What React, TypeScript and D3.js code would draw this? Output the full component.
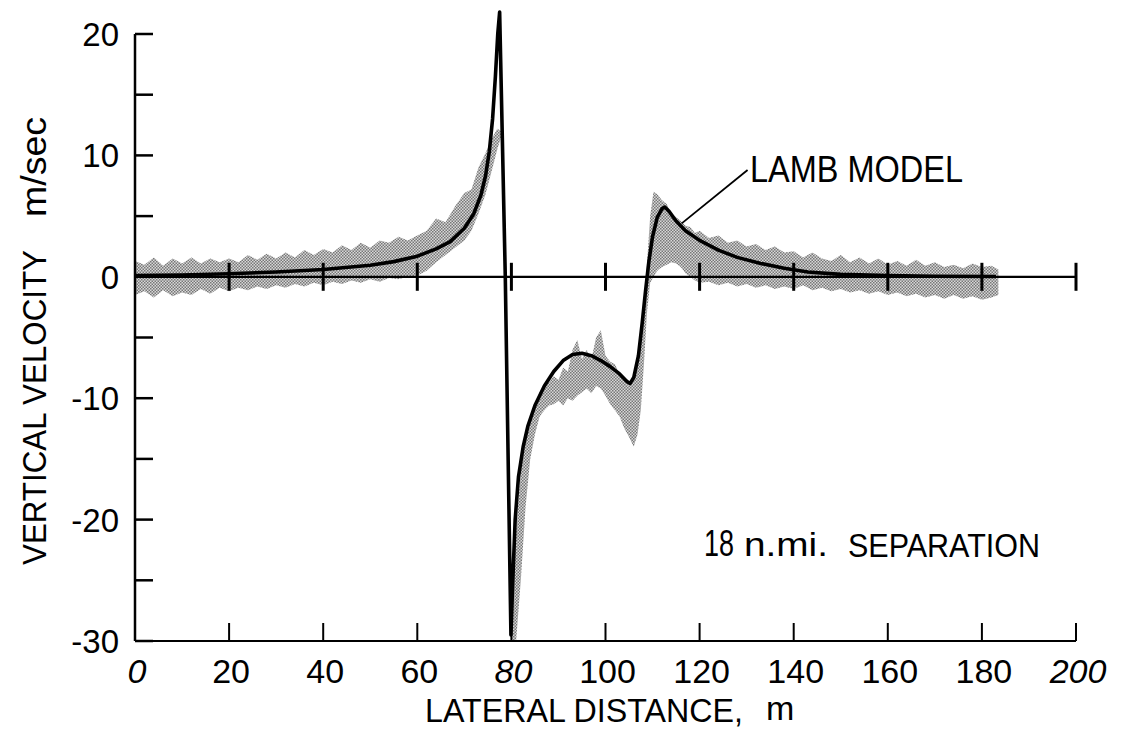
import React from "react";
import * as d3 from "d3";

// ---- Data ----
const xTicks = [0, 20, 40, 60, 80, 100, 120, 140, 160, 180, 200];
const xTickLabels = ["0", "20", "40", "60", "80", "100", "120", "140", "160", "180", "200"];
const italicXLabels = ["0", "80", "200"];
const yMajorTicks = [20, 10, 0, -10, -20, -30];
const yTickLabels = ["20", "10", "0", "-10", "-20", "-30"];
const yMinorTicks = [20, 15, 10, 5, 0, -5, -10, -15, -20, -25, -30];

// Lamb model curve
const modelX = [0, 10, 20, 30, 40, 50, 55, 60, 64, 67, 70, 72, 73.5, 74.5, 75.3, 76, 76.6, 77.1, 77.5,
  78.7, 79.9, 80.3, 80.8, 81.5, 82.5, 83.5, 85, 87, 89, 91, 93, 95, 97, 99, 101, 103, 104.5, 105.2,
  106, 107, 107.8, 108.5, 109.2, 110, 111, 112, 112.6, 113.5, 115, 117, 120, 124, 128, 133, 138, 143,
  150, 160, 170, 183];
const modelY = [0.1, 0.15, 0.25, 0.4, 0.6, 0.95, 1.25, 1.7, 2.3, 2.9, 4.0, 5.2, 6.7, 8.3, 10.3, 13, 16.5, 20, 21.8,
  0, -29.5, -25, -20, -16.5, -14, -12.3, -10.6, -9, -7.8, -6.9, -6.4, -6.3, -6.5, -6.9, -7.4, -8.0, -8.6, -8.8,
  -8.3, -6.5, -3.8, -1.2, 1.2, 3.3, 4.9, 5.6, 5.75, 5.4, 4.6, 3.8, 3.0, 2.2, 1.6, 1.1, 0.7, 0.4,
  0.2, 0.1, 0.05, 0.03];

// Measured data band (upper / lower envelope); null = gap
const bandX = [0, 2, 4, 6, 8, 10, 12, 14, 16, 18, 20, 22, 24, 26, 28, 30, 32, 34, 36, 38, 40, 42, 44, 46, 48,
  50, 52, 54, 56, 58, 60, 62, 64, 66, 68, 70, 71.5, 73, 74.5, 76, 77, 77.8,
  79,
  80.2, 81, 82, 83, 84, 85, 86, 87, 88, 89, 90, 91, 92, 93, 94, 95, 96, 97, 98, 99, 100, 101, 102, 103,
  104, 105, 106, 106.8, 107.5, 108.2, 108.8, 109.5, 110.2, 111, 112, 113, 114, 115, 116, 117, 118, 119,
  120, 122, 124, 126, 128, 130, 132, 134, 136, 138, 140, 142, 144, 146, 148, 150, 152, 154, 156, 158,
  160, 162, 164, 166, 168, 170, 172, 174, 176, 178, 180, 182, 183.5];
const bandUpper = [1.3, 1.0, 1.6, 0.9, 1.5, 1.1, 1.6, 1.1, 1.5, 1.2, 1.5, 1.2, 1.8, 1.4, 1.9, 1.5, 2.0, 1.6, 2.2, 1.8,
  2.3, 2.0, 2.6, 2.2, 2.8, 2.4, 3.0, 2.8, 3.3, 3.0, 3.4, 3.8, 4.8, 4.5, 5.8, 6.9, 7.2, 9.0, 10.2, 11.5, 12.2, 12.0,
  null,
  -27, -21, -16, -13.5, -12, -10.5, -9.5, -9, -8.7, -8.2, -8.5, -7.5, -7.8, -6, -5.2, -6.8, -6, -6.8, -5, -4.4,
  -6.5, -7, -7.2, -8, -8.5, -9, -8.5, -7, -5, -2, 1, 5, 7, 6.8, 6.3, 6.0, 5.2, 4.9, 4.6, 4.2, 4.1, 3.6,
  3.8, 3.2, 3.4, 2.8, 3.0, 2.5, 2.7, 2.2, 2.5, 2.0, 2.1, 1.6, 2.0, 1.5, 1.3, 1.8, 1.2, 1.6, 1.1, 1.5,
  1.0, 1.3, 0.9, 1.4, 0.9, 1.2, 0.8, 1.0, 0.7, 1.1, 0.8, 0.9, 0.6];
const bandLower = [-1.5, -1.2, -1.7, -1.1, -1.6, -1.3, -1.5, -1.0, -1.4, -0.9, -1.2, -0.9, -1.1, -0.8, -1.0, -0.7,
  -0.9, -0.6, -0.8, -0.5, -0.7, -0.4, -0.6, -0.3, -0.5, -0.2, -0.4, -0.1, -0.2, 0.0, 0.1, 0.5, 1.2, 1.8, 2.4, 3.0,
  3.8, 5.2, 6.8, 9.0, 10.5, 11.5,
  null,
  -30, -30, -25, -19, -15, -13, -11.5, -11, -10.6, -10.5, -10.2, -10.6, -10, -10.2, -9.8, -9.5, -9.2, -9.6, -9,
  -9.2, -9.8, -10.5, -11, -11.5, -12.5, -13.2, -14, -13, -11, -7, -3, -0.5, 0, 0.5, 0.8, 1.0, 1.2, 1.1, 0.8,
  0.3, 0.0, -0.3, -0.5, -0.4, -0.7, -0.5, -0.8, -0.6, -0.9, -0.7, -1.0, -0.8, -1.0, -0.7, -1.1, -0.9, -1.2,
  -1.0, -1.3, -1.1, -1.4, -1.2, -1.5, -1.3, -1.6, -1.4, -1.7, -1.5, -1.8, -1.5, -1.8, -1.6, -1.9, -1.7, -1.5];

const FONT = "'Liberation Sans', Arial, Helvetica, sans-serif";

export default function App() {
  const x = d3.scaleLinear().domain([0, 200]).range([135, 1076]);
  const y = d3.scaleLinear().domain([-30, 20]).range([641, 34]);

  const band = bandX.map((v, i) => ({ x: v, hi: bandUpper[i], lo: bandLower[i] }));
  const area = d3
    .area<{ x: number; hi: number | null; lo: number | null }>()
    .defined((d) => d.hi != null && d.lo != null)
    .x((d) => x(d.x))
    .y0((d) => y(d.lo as number))
    .y1((d) => y(d.hi as number))
    .curve(d3.curveLinear);

  const model = modelX.map((v, i) => [x(v), y(modelY[i])] as [number, number]);
  const line = d3.line().curve(d3.curveLinear);

  const y0 = y(0);

  return (
    <svg width={1126} height={730} style={{ position: "absolute", left: 0, top: 0, background: "#fff" }}>
      <defs>
        <pattern id="stip" width={3} height={3} patternUnits="userSpaceOnUse">
          <rect x={0} y={0} width={3} height={3} fill="#d8d8d8" />
          <rect x={0} y={0} width={1.5} height={1.5} fill="#777" />
          <rect x={1.5} y={1.5} width={1.5} height={1.5} fill="#777" />
        </pattern>
      </defs>
      <rect width={1126} height={730} fill="#fff" />

      {/* data band */}
      <path d={area(band) || ""} fill="url(#stip)" stroke="none" />

      {/* zero line with ticks */}
      <line x1={x(0)} x2={x(200)} y1={y0} y2={y0} stroke="#000" strokeWidth={2.3} />
      {xTicks.filter((t) => t > 0).map((t) => (
        <line key={"zt" + t} x1={x(t)} x2={x(t)} y1={y0 - 14} y2={y0 + 14} stroke="#000" strokeWidth={3} />
      ))}

      {/* model curve */}
      <path d={line(model) || ""} fill="none" stroke="#000" strokeWidth={3.6} strokeLinejoin="round" />

      {/* left axis */}
      <line x1={x(0)} x2={x(0)} y1={y(20)} y2={y(-30)} stroke="#000" strokeWidth={2.5} />
      {yMinorTicks.map((t) => (
        <line key={"yt" + t} x1={x(0)} x2={x(0) + 18} y1={y(t)} y2={y(t)} stroke="#000" strokeWidth={2.5} />
      ))}
      {yMajorTicks.map((t, i) => (
        <text key={"yl" + t} x={119} y={y(t) + 12} textAnchor="end" fontFamily={FONT} fontSize={33} fill="#000">
          {yTickLabels[i]}
        </text>
      ))}

      {/* bottom axis */}
      <line x1={x(0)} x2={x(200)} y1={y(-30)} y2={y(-30)} stroke="#000" strokeWidth={2} />
      {xTicks.filter((t) => t > 0).map((t) => (
        <line key={"bt" + t} x1={x(t)} x2={x(t)} y1={y(-30)} y2={y(-30) - 18} stroke="#000" strokeWidth={2} />
      ))}
      {xTicks.map((t, i) => {
        const lab = xTickLabels[i];
        const it = italicXLabels.includes(lab);
        return (
          <text key={"xl" + t} x={x(t) + 2} y={683} textAnchor="middle" fontFamily={FONT} fontSize={34}
            fontStyle={it ? "italic" : "normal"} fill="#000">
            {lab}
          </text>
        );
      })}

      {/* axis titles */}
      <text x={425} y={722} fontFamily={FONT} fontSize={34} textLength={318} lengthAdjust="spacingAndGlyphs" fill="#000">
        LATERAL DISTANCE,
      </text>
      <text x={766} y={720} fontFamily={FONT} fontSize={34} fill="#000">m</text>
      <text transform="translate(46,565) rotate(-90)" fontFamily={FONT} fontSize={34} textLength={315}
        lengthAdjust="spacingAndGlyphs" fill="#000">
        VERTICAL VELOCITY
      </text>
      <text transform="translate(46,217) rotate(-90)" fontFamily={FONT} fontSize={35} textLength={100}
        lengthAdjust="spacingAndGlyphs" fill="#000">
        m/sec
      </text>

      {/* annotations */}
      <line x1={x(130.2)} y1={y(8.8)} x2={x(116.2)} y2={y(4.4)} stroke="#000" strokeWidth={1.8} />
      <text x={750} y={182} fontFamily={FONT} fontSize={36} textLength={213} lengthAdjust="spacingAndGlyphs" fill="#000">
        LAMB MODEL
      </text>
      <text x={704} y={556} fontFamily={FONT} fontSize={36} textLength={30} lengthAdjust="spacingAndGlyphs" fill="#000">
        18
      </text>
      <text x={744} y={556} fontFamily={FONT} fontSize={34} textLength={84} lengthAdjust="spacingAndGlyphs" fill="#000">
        n.mi.
      </text>
      <text x={848} y={557} fontFamily={FONT} fontSize={33} textLength={192} lengthAdjust="spacingAndGlyphs" fill="#000">
        SEPARATION
      </text>
    </svg>
  );
}
